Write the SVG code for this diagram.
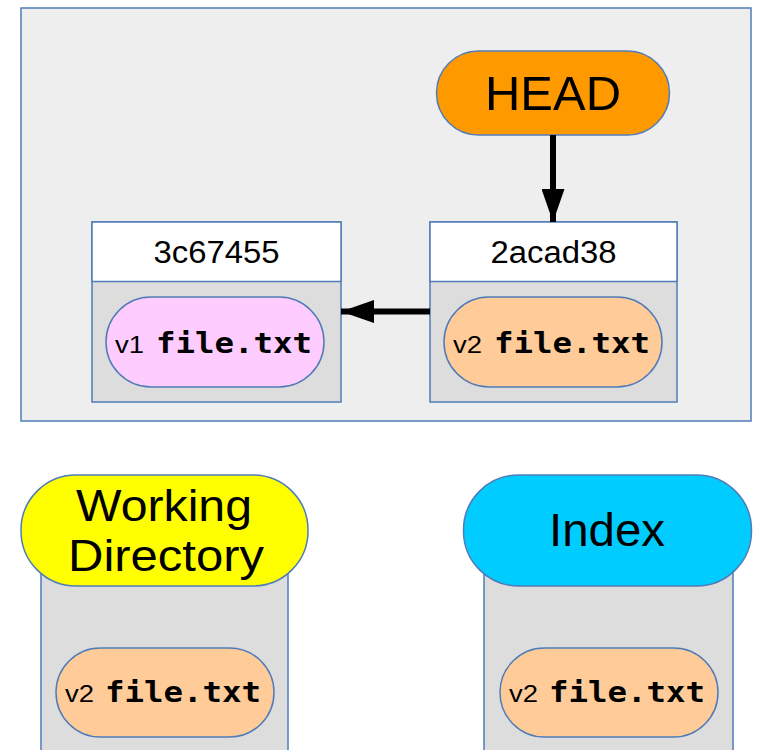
<svg xmlns="http://www.w3.org/2000/svg" width="758" height="750" viewBox="0 0 758 750">
<defs>
<style>
.bx{stroke:#4f7cb8;stroke-width:1.5}
.lbl{font-family:"Liberation Sans",Arial,sans-serif;fill:#000}
.mono{font-family:"DejaVu Sans Mono","Liberation Mono",monospace;font-weight:bold;font-size:28px;fill:#000}
.ver{font-family:"Liberation Sans",Arial,sans-serif;font-size:23px;fill:#000}
.conn{stroke:#000;stroke-width:6;fill:none}
</style>
<marker id="ah" viewBox="0 0 10 10" refX="10" refY="5" markerUnits="userSpaceOnUse" markerWidth="33" markerHeight="23" orient="auto" preserveAspectRatio="none">
<path d="M0,0 L10,5 L0,10 z" fill="#000"/>
</marker>
</defs>
<rect width="758" height="750" fill="#fff"/>
<g id="repo">
<rect class="bx" x="21" y="8" width="730" height="413" fill="#eeeeee"/>
</g>
<g id="head">
<rect class="bx" x="436.5" y="51" width="233" height="84" rx="42" fill="#ff9900"/>
<text class="lbl" x="553" y="110" font-size="48" text-anchor="middle" textLength="136" lengthAdjust="spacingAndGlyphs">HEAD</text>
</g>
<g id="commit-3c67455">
<rect class="bx" x="92" y="222" width="249" height="180" fill="#dddddd"/>
<rect class="bx" x="92" y="222" width="249" height="59.5" fill="#ffffff"/>
<text class="lbl" x="216.5" y="263" font-size="31" text-anchor="middle" textLength="126" lengthAdjust="spacingAndGlyphs">3c67455</text>
<rect class="bx" x="106" y="297" width="218" height="90" rx="45" fill="#ffccff"/>
<text class="ver" x="115" y="353" textLength="29" lengthAdjust="spacingAndGlyphs">v1</text>
<text class="mono" x="156" y="353" textLength="156" lengthAdjust="spacingAndGlyphs">file.txt</text>
</g>
<g id="commit-2acad38">
<rect class="bx" x="430" y="222" width="247" height="180" fill="#dddddd"/>
<rect class="bx" x="430" y="222" width="247" height="59.5" fill="#ffffff"/>
<text class="lbl" x="553.5" y="263" font-size="31" text-anchor="middle" textLength="126" lengthAdjust="spacingAndGlyphs">2acad38</text>
<rect class="bx" x="444" y="297" width="218" height="90" rx="45" fill="#ffcc99"/>
<text class="ver" x="453" y="353" textLength="29" lengthAdjust="spacingAndGlyphs">v2</text>
<text class="mono" x="494" y="353" textLength="156" lengthAdjust="spacingAndGlyphs">file.txt</text>
</g>
<g id="working-directory">
<rect class="bx" x="41" y="560" width="247" height="200" fill="#dddddd"/>
<rect class="bx" x="21" y="475" width="287" height="111" rx="55" fill="#ffff00"/>
<text class="lbl" x="164" y="521" font-size="45" text-anchor="middle" textLength="176" lengthAdjust="spacingAndGlyphs">Working</text>
<text class="lbl" x="166" y="571" font-size="45" text-anchor="middle" textLength="196" lengthAdjust="spacingAndGlyphs">Directory</text>
<rect class="bx" x="56" y="648" width="218" height="89" rx="44.5" fill="#ffcc99"/>
<text class="ver" x="65" y="702" textLength="29" lengthAdjust="spacingAndGlyphs">v2</text>
<text class="mono" x="105" y="702" textLength="156" lengthAdjust="spacingAndGlyphs">file.txt</text>
</g>
<g id="index">
<rect class="bx" x="484" y="560" width="249" height="200" fill="#dddddd"/>
<rect class="bx" x="463.5" y="475" width="288" height="111" rx="55" fill="#00ccff"/>
<text class="lbl" x="607" y="546" font-size="46" text-anchor="middle" textLength="116" lengthAdjust="spacingAndGlyphs">Index</text>
<rect class="bx" x="500" y="648" width="218" height="89" rx="44.5" fill="#ffcc99"/>
<text class="ver" x="509" y="702" textLength="29" lengthAdjust="spacingAndGlyphs">v2</text>
<text class="mono" x="549" y="702" textLength="156" lengthAdjust="spacingAndGlyphs">file.txt</text>
</g>
<g id="connectors">
<line class="conn" x1="553" y1="135" x2="553" y2="222" marker-end="url(#ah)"/>
<line class="conn" x1="430" y1="311.5" x2="341" y2="311.5" marker-end="url(#ah)"/>
</g>
</svg>
